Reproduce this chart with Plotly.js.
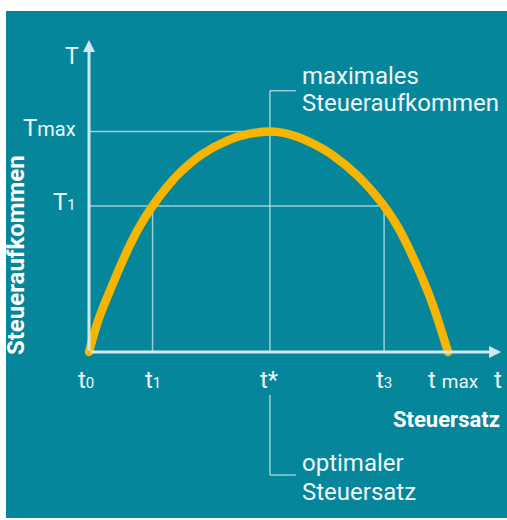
<!DOCTYPE html>
<html>
<head>
<meta charset="utf-8">
<script src="https://cdn.plot.ly/plotly-3.0.1.min.js"></script>
<style>html,body{margin:0;padding:0;background:#fff;}#chart{width:507px;height:520px;}</style>
</head>
<body>
<div id="chart"></div>
<script>
// Laffer curve data (relative units: t0..tmax = 0..100, T: 0..Tmax = 0..100)
const taxRate = [0, 2.6, 6.3, 10.5, 14.0, 17.7, 21.2, 25.3, 31.4, 38.7, 44.5, 50.4, 54.5, 58.2, 63.0, 67.6, 74.9, 82.2, 86.1, 90.8, 95.5, 100];
const revenue = [0, 14.5, 29.6, 45.4, 56.6, 66.2, 73.8, 81.3, 89.6, 96.0, 98.9, 100, 99.3, 97.5, 94.0, 89.6, 79.8, 66.2, 56.5, 41.0, 22.6, 0];

const tTickVals = [0, 17.7, 50.4, 82.2, 100];
const tTickText = ['t<span style="font-size:15px">0</span>', 't<span style="font-size:15px">1</span>', 't*', 't<span style="font-size:15px">3</span>', 't <span style="font-size:19px">max</span>'];
const TTickVals = [66.2, 100];
const TTickText = ['T<span style="font-size:15px">1</span>', 'T<span style="font-size:20px">max</span>'];

const tStar = tTickVals[2], t1 = tTickVals[1], t3 = tTickVals[3];
const T1 = TTickVals[0], TMax = TTickVals[1];

const lineCol = 'rgba(200,232,238,0.75)';
const axisCol = '#d3e8ee';
const textCol = '#eef6f8';
const font = 'Roboto, "DejaVu Sans", sans-serif';

function seg(x0, y0, x1, y1, w, c) {
  return {type: 'line', xref: 'x', yref: 'y', x0: x0, y0: y0, x1: x1, y1: y1, layer: 'below',
          line: {color: c || lineCol, width: w || 1.5}};
}

const topBracketY = 118.5, bracketEndX = 57.6, botBracketTop = -19.5, botBracketY = -55.8;

const shapes = [
  seg(0, TMax, tStar, TMax),
  seg(0, T1, t3, T1),
  seg(t1, 0, t1, T1),
  seg(t3, 0, t3, T1),
  seg(tStar, 0, tStar, topBracketY),
  seg(tStar, topBracketY, bracketEndX, topBracketY),
  seg(tStar, botBracketTop, tStar, botBracketY),
  seg(tStar, botBracketY, bracketEndX, botBracketY)
];

const annotations = [];
// axes with arrows
annotations.push({x: 0, y: 141.5, ax: 0, ay: 0, xref: 'x', yref: 'y', axref: 'x', ayref: 'y',
  text: '', showarrow: true, arrowhead: 2, arrowsize: 0.8, arrowwidth: 3, arrowcolor: axisCol});
annotations.push({x: 114.8, y: 0, ax: 0, ay: 0, xref: 'x', yref: 'y', axref: 'x', ayref: 'y',
  text: '', showarrow: true, arrowhead: 2, arrowsize: 0.8, arrowwidth: 3, arrowcolor: axisCol});

// x tick labels
const xShift = [-3, 0, 0, 0, 5];
tTickVals.forEach((v, i) => annotations.push({x: v, y: -12.7, xref: 'x', yref: 'y', text: tTickText[i],
  showarrow: false, xanchor: 'center', yanchor: 'middle', xshift: xShift[i], font: {family: font, size: 24, color: textCol}}));
annotations.push({x: 113.9, y: -12.7, xref: 'x', yref: 'y', text: 't', showarrow: false,
  xanchor: 'center', yanchor: 'middle', font: {family: font, size: 24, color: textCol}});

// y tick labels
TTickVals.forEach((v, i) => annotations.push({x: -3.0, y: v, xref: 'x', yref: 'y', text: TTickText[i],
  showarrow: false, xanchor: 'right', yanchor: 'middle', yshift: 4, font: {family: font, size: 24, color: textCol}}));
annotations.push({x: -4.7, y: 134.0, xref: 'x', yref: 'y', text: 'T', showarrow: false,
  xanchor: 'center', yanchor: 'middle', font: {family: font, size: 23, color: textCol}});

// axis titles
annotations.push({x: -20.3, y: 44.0, xref: 'x', yref: 'y', text: '<b>Steueraufkommen</b>', textangle: -90,
  showarrow: false, xanchor: 'center', yanchor: 'middle', font: {family: font, size: 24, color: '#ffffff'}});
annotations.push({x: 115.0, y: -30.6, xref: 'x', yref: 'y', text: '<b>Steuersatz</b>',
  showarrow: false, xanchor: 'right', yanchor: 'middle', font: {family: font, size: 22, color: '#ffffff'}});

// callouts
const calloutFont = {family: font, size: 24, color: textCol};
annotations.push({x: 58.8, y: 125.2, xref: 'x', yref: 'y', text: 'maximales', showarrow: false,
  xanchor: 'left', yanchor: 'middle', font: calloutFont});
annotations.push({x: 58.8, y: 112.9, xref: 'x', yref: 'y', text: 'Steueraufkommen', showarrow: false,
  xanchor: 'left', yanchor: 'middle', font: calloutFont});
annotations.push({x: 58.8, y: -50.3, xref: 'x', yref: 'y', text: 'optimaler', showarrow: false,
  xanchor: 'left', yanchor: 'middle', font: calloutFont});
annotations.push({x: 58.8, y: -63.3, xref: 'x', yref: 'y', text: 'Steuersatz', showarrow: false,
  xanchor: 'left', yanchor: 'middle', font: calloutFont});

const traces = [{
  x: taxRate, y: revenue, type: 'scatter', mode: 'lines',
  line: {color: '#f7b500', width: 8.5, shape: 'spline', smoothing: 1},
  hoverinfo: 'skip'
}, {
  x: [taxRate[0], taxRate[taxRate.length - 1]], y: [revenue[0], revenue[revenue.length - 1]],
  type: 'scatter', mode: 'markers', marker: {color: '#f7b500', size: 8.5}, hoverinfo: 'skip'
}];

const layout = {
  width: 507, height: 520,
  margin: {l: 6, r: 0, t: 11, b: 2, pad: 0},
  paper_bgcolor: '#ffffff', plot_bgcolor: '#06869b',
  showlegend: false,
  xaxis: {range: [-23.12, 116.43], visible: false, fixedrange: true},
  yaxis: {range: [-75.28, 154.65], visible: false, fixedrange: true},
  shapes: shapes,
  annotations: annotations
};

Plotly.newPlot('chart', traces, layout, {displayModeBar: false, staticPlot: true});
</script>
</body>
</html>
